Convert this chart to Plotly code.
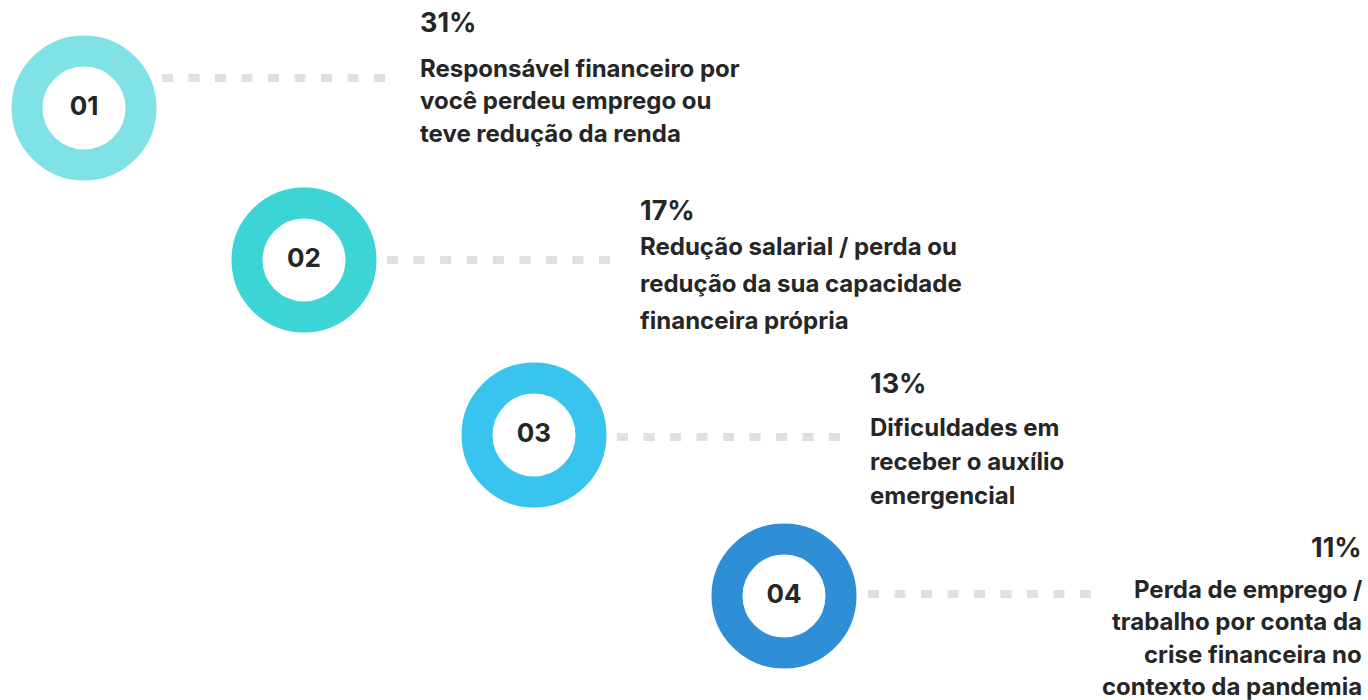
import plotly.graph_objects as go

# ---- data ----
labels = ["01", "02", "03", "04"]
percentages = [31, 17, 13, 11]
descriptions = [
    ["Responsável financeiro por", "você perdeu emprego ou", "teve redução da renda"],
    ["Redução salarial / perda ou", "redução da sua capacidade", "financeira própria"],
    ["Dificuldades em", "receber o auxílio", "emergencial"],
    ["Perda de emprego /", "trabalho por conta da", "crise financeira no", "contexto da pandemia"],
]

# ---- layout / style constants (pixel units) ----
W, H = 1368, 700
ring_colors = ["#80e2e4", "#3dd4d6", "#38c4ee", "#2e8ed6"]
ring_cx = [84, 304, 534, 784]
ring_cy = [108, 260, 435, 596]
dot_dy = [-30, 0, 2, -2]
dot_x0_off = [78, 83, 83, 84]
dot_len = 223
text_x = [418, 638, 868, 1364]
text_anchor = ["left", "left", "left", "right"]
pct_y = [22, 210, 383, 547]
line0_y = [68, 246, 427, 589]
line_gap = [32.5, 37, 34, 32.5]

FONT = "Inter"
TXT = "#262626"

fig = go.Figure()

# dotted connectors
for i in range(len(labels)):
    x0 = ring_cx[i] + dot_x0_off[i]
    y = ring_cy[i] + dot_dy[i]
    fig.add_trace(go.Scatter(
        x=[x0, x0 + dot_len], y=[y, y], mode="lines",
        line=dict(color="#e0e0e0", width=8, dash="11px,15.5px"),
        hoverinfo="skip", showlegend=False))

# rings with numbers
for i, lab in enumerate(labels):
    fig.add_trace(go.Scatter(
        x=[ring_cx[i]], y=[ring_cy[i]], mode="markers+text",
        marker=dict(size=114, color="white",
                    line=dict(color=ring_colors[i], width=31)),
        text=[lab], textposition="middle center",
        textfont=dict(family=FONT, size=26, color=TXT, weight="bold"),
        hoverinfo="skip", showlegend=False))

# texts
for i in range(len(labels)):
    fig.add_annotation(
        x=text_x[i], y=pct_y[i], xref="x", yref="y",
        text=f"{percentages[i]}%", showarrow=False,
        xanchor=text_anchor[i], yanchor="middle",
        font=dict(family=FONT, size=27, color=TXT, weight="bold"))
    for j, line in enumerate(descriptions[i]):
        fig.add_annotation(
            x=text_x[i], y=line0_y[i] + j * line_gap[i], xref="x", yref="y",
            text=line, showarrow=False,
            xanchor=text_anchor[i], yanchor="middle",
            font=dict(family=FONT, size=24, color=TXT, weight="bold"))

fig.update_layout(
    width=W, height=H,
    margin=dict(l=0, r=0, t=0, b=0),
    paper_bgcolor="white", plot_bgcolor="white",
    xaxis=dict(range=[0, W], visible=False, fixedrange=True),
    yaxis=dict(range=[H, 0], visible=False, fixedrange=True),
    showlegend=False,
)

fig.write_html("out.html", config={"displayModeBar": False},
               post_script="document.body.style.margin='0';document.body.style.overflow='hidden';")
